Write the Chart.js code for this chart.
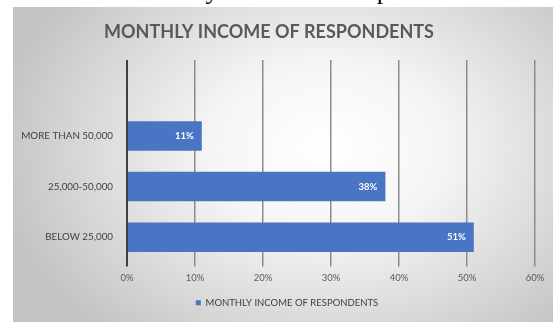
<!DOCTYPE html>
<html>
<head>
<meta charset="utf-8">
<title>Monthly Income of Respondents</title>
<script src="https://cdn.jsdelivr.net/npm/chart.js@4.4.0/dist/chart.umd.min.js"></script>
<style>
  html, body { margin: 0; padding: 0; background: #fff; width: 553px; height: 322px; overflow: hidden; }
  #caption {
    position: absolute; left: 129px; top: -22px;
    font-family: 'Liberation Serif', serif; font-size: 26px; line-height: 1;
    color: #000; white-space: nowrap;
  }
  #box {
    position: absolute; left: 13px; top: 7px; width: 540px; height: 315px;
    background: radial-gradient(ellipse 62% 78% at 58% 45%, #ffffff 0%, #f5f5f5 35%, #c3c3c3 100%);
  }
</style>
</head>
<body>
<div id="caption">Monthly Income of Respondents</div>
<div id="box"><canvas id="incomeChart" width="540" height="315"></canvas></div>
<script>
// empty first slot leaves the gap above the top bar
const categories = ['', 'MORE THAN 50,000', '25,000-50,000', 'BELOW 25,000'];
const shares = [null, 11, 38, 51];
const tickValues = [0, 10, 20, 30, 40, 50, 60];
const seriesName = 'MONTHLY INCOME OF RESPONDENTS';

const barBlue = '#4a75c5';

// white percentage text inside the end of each bar
const barValueLabels = {
  id: 'barValueLabels',
  afterDatasetsDraw(chart) {
    const ctx = chart.ctx;
    const meta = chart.getDatasetMeta(0);
    ctx.save();
    ctx.fillStyle = '#ffffff';
    ctx.font = 'bold 9.5px Lato';
    ctx.textAlign = 'right';
    ctx.textBaseline = 'middle';
    meta.data.forEach((bar, i) => {
      if (shares[i] == null) return;
      ctx.fillText(shares[i] + '%', bar.x - 8, bar.y);
    });
    ctx.restore();
  }
};

// nudge title left and legend right of the default centring
const shiftBlocks = {
  id: 'shiftBlocks',
  afterLayout(chart) {
    const t = chart.titleBlock;
    if (t) { t.left -= 5; t.right -= 5; }
    const l = chart.legend;
    if (l) { l.left += 13; l.right += 13; }
  }
};

const ctx = document.getElementById('incomeChart').getContext('2d');

const incomeChart = new Chart(ctx, {
  type: 'bar',
  data: {
    labels: categories,
    datasets: [{
      label: seriesName,
      data: shares,
      backgroundColor: barBlue,
      borderWidth: 0,
      categoryPercentage: 1,
      barPercentage: 0.585
    }]
  },
  options: {
    indexAxis: 'y',
    responsive: false,
    animation: false,
    layout: { padding: { left: 0, right: 18, top: 0, bottom: 4.5 } },
    scales: {
      x: {
        min: 0,
        max: 60,
        afterBuildTicks(scale) {
          scale.ticks = tickValues.map(v => ({ value: v }));
        },
        afterFit(scale) { scale.height = 27.5; },
        border: { display: false },
        grid: {
          color: c => c.index === 0 ? '#404040' : '#8c8c8c',
          lineWidth: c => c.index === 0 ? 2 : 1.5,
          tickLength: 4
        },
        ticks: {
          padding: 6,
          color: '#595959',
          font: { family: 'Lato', size: 9.5 },
          callback: v => v + '%'
        }
      },
      y: {
        afterFit(scale) { scale.width = 114; },
        border: { display: false },
        grid: { display: false, drawTicks: false },
        ticks: {
          padding: 14,
          color: '#404040',
          font: { family: 'Lato', size: 9.8 }
        }
      }
    },
    plugins: {
      title: {
        display: true,
        text: 'MONTHLY INCOME OF RESPONDENTS',
        color: '#595959',
        font: { family: 'Lato', size: 18, weight: 'bold' },
        padding: { top: 14, bottom: 17.4 }
      },
      legend: {
        display: true,
        position: 'bottom',
        labels: {
          boxWidth: 5,
          boxHeight: 5,
          padding: 8,
          color: '#404040',
          font: { family: 'Lato', size: 9.5 }
        }
      },
      tooltip: { enabled: false }
    }
  },
  plugins: [barValueLabels, shiftBlocks]
});
</script>
</body>
</html>
